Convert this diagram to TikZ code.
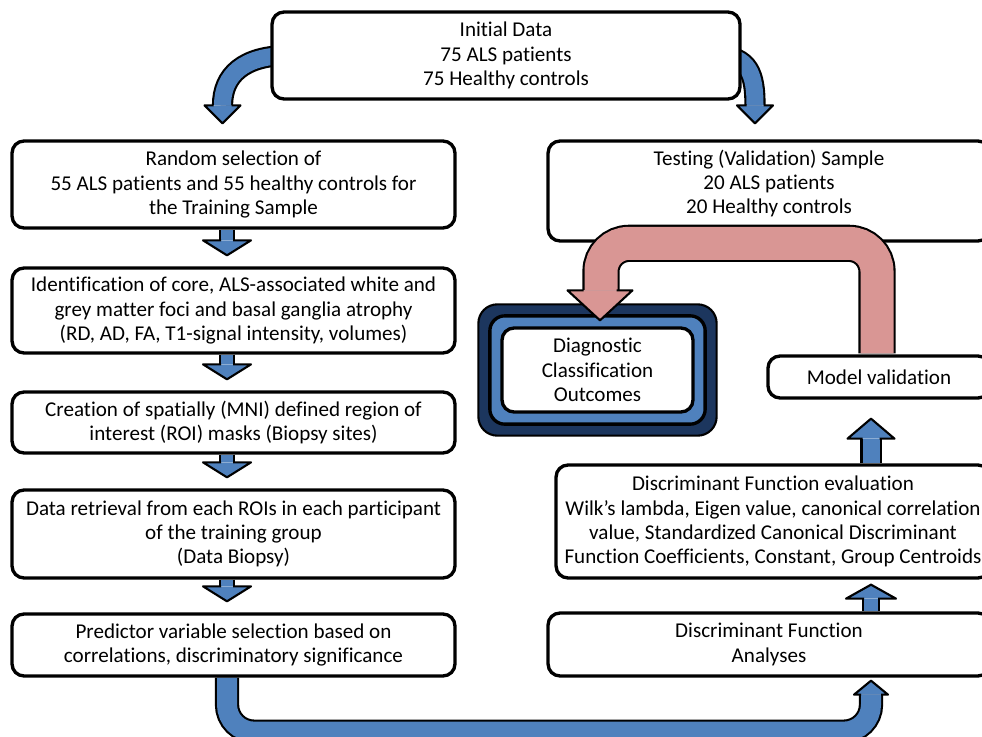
\documentclass[tikz,border=0pt]{standalone}
\usepackage{fontspec}
\setmainfont[Ligatures=NoCommon]{Carlito}
\usepackage{tikz}
\usetikzlibrary{calc, fit, backgrounds}
\definecolor{arrowblue}{RGB}{79,129,189}
\definecolor{navyblue}{RGB}{28,54,94}
\definecolor{rosearrow}{RGB}{217,150,148}
\newcommand{\headdown}[5]{\filldraw[fill=#5, arrowline] (#1) ++(#2,-#4) -- ++({#3-#2},0) -- ++(-#3,#4) -- ++(-#3,-#4) -- ++({#3-#2},0);}
\newcommand{\headup}[5]{\filldraw[fill=#5, arrowline] (#1) ++(#2,#4) -- ++({#3-#2},0) -- ++(-#3,-#4) -- ++(-#3,#4) -- ++({#3-#2},0);}
\newcommand{\stepdown}[2]{%
  \draw[blueband=12] ($(#1.south)+(-6.5,0)$) -- ($(#2.north)+(-6.5,-26)$);
  \headdown{$(#2.north)+(-6.5,-11)$}{6}{24}{15}{arrowblue}}

\begin{document}
\begin{tikzpicture}[x=0.02cm, y=-0.02cm,
  box/.style={draw, line width=1.9pt, rounded corners=0.24cm, fill=white, align=center,
    inner sep=0pt, font=\fontsize{12}{13.8}\selectfont},
  arrowline/.style={draw=black, line width=1.2pt, line join=round},
  blueband/.style={draw=arrowblue, line width=#1*0.02cm, preaction={draw=black, line width=#1*0.02cm+2.4pt}},
  roseband/.style={draw=rosearrow, line width=#1*0.02cm, preaction={draw=black, line width=#1*0.02cm+2.4pt}}]
  \useasboundingbox (0,0) rectangle (982,736);

  \node[box, minimum width=9.36cm, minimum height=1.74cm] (init) at (506,55.5)
    {Initial Data\\75 ALS patients\\75 Healthy controls};
  \node[box, minimum width=8.86cm, minimum height=1.74cm] (rand) at (233.5,184.5)
    {Random selection of\\55 ALS patients and 55 healthy controls for\\the Training Sample};
  \node[box, minimum width=8.86cm, minimum height=1.70cm] (ident) at (233.5,310.5)
    {Identification of core, ALS-associated white and\\grey matter foci and basal ganglia atrophy\\(RD, AD, FA, T1-signal intensity, volumes)};
  \node[box, minimum width=8.86cm, minimum height=1.22cm] (creat) at (233.5,422.5)
    {Creation of spatially (MNI) defined region of\\interest (ROI) masks (Biopsy sites)};
  \node[box, minimum width=8.86cm, minimum height=1.76cm] (retr) at (233.5,534)
    {Data retrieval from each ROIs in each participant\\of the training group\\(Data Biopsy)};
  \node[box, minimum width=8.86cm, minimum height=1.24cm] (pred) at (233.5,645)
    {Predictor variable selection based on\\correlations, discriminatory significance};
  \node[box, minimum width=8.84cm, minimum height=2.00cm, text depth=0.37cm] (test) at (769,191)
    {Testing (Validation) Sample\\20 ALS patients\\20 Healthy controls};
  \node[box, minimum width=3.82cm, minimum height=1.68cm] (diag) at (597.5,370)
    {Diagnostic\\Classification\\Outcomes};
  \node[box, minimum width=4.44cm, minimum height=0.84cm] (modv) at (879,377)
    {Model validation};
  \node[box, minimum width=8.68cm, minimum height=2.26cm] (dfe) at (773,521.5)
    {Discriminant Function evaluation\\Wilk’s lambda, Eigen value, canonical correlation\\value, Standardized Canonical Discriminant\\Function Coefficients, Constant, Group Centroids};
  \node[box, minimum width=8.84cm, minimum height=1.26cm] (dfa) at (769,644.5)
    {Discriminant Function\\Analyses};
  \coordinate (rx) at (871,0);

  \begin{scope}[on background layer]
    \node[draw, line width=1.2pt, fill=navyblue, rounded corners=0.38cm, fit=(diag), inner sep=0.44cm] (diagout) {};
    \node[draw, line width=1.9pt, fill=arrowblue, rounded corners=0.3cm, fit=(diag), inner sep=0.21cm] (diagmid) {};

    \draw[blueband=17] ($(init.west)+(18,0)$) .. controls +(-45,0) and +(0,-30) .. ($(rand.north)+(-11,-34)$);
    \headdown{$(rand.north)+(-11,-16)$}{9}{18}{18}{arrowblue}
    \draw[blueband=17] ($(init.east)+(-25,0)$) .. controls +(33,0) and +(0,-30) .. ($(test.north)+(-14,-34)$);
    \headdown{$(test.north)+(-14,-16)$}{8.5}{18}{18}{arrowblue}

    \stepdown{rand}{ident}
    \stepdown{ident}{creat}
    \stepdown{creat}{retr}
    \stepdown{retr}{pred}

    \draw[blueband=20, rounded corners=0.54cm] ($(pred.south)+(-6.5,0)$) |- ($(rx|-dfa.south)+(0,54)$) -- ($(rx|-dfa.south)+(0,17)$);
    \headup{$(rx|-dfa.south)+(0,3)$}{10}{17}{14}{arrowblue}

    \draw[blueband=14] (rx|-dfa.north) -- ($(rx|-dfe.south)+(0,19)$);
    \headup{$(rx|-dfe.south)+(0,5)$}{7}{25}{14}{arrowblue}
    \draw[blueband=17] (rx|-dfe.north) -- ($(rx|-modv.south)+(0,39)$);
    \headup{$(rx|-modv.south)+(0,19)$}{8.5}{23.5}{20}{arrowblue}
  \end{scope}

  \draw[roseband=33, rounded corners=0.56cm] ($(modv.north)+(-2,-1)$) |- ($(diag.north)+(3.5,-83)$) -- ($(diag.north)+(3.5,-36)$);
  \headdown{$(diag.north)+(2.5,-6)$}{16.5}{32.5}{30}{rosearrow}
\end{tikzpicture}
\end{document}
